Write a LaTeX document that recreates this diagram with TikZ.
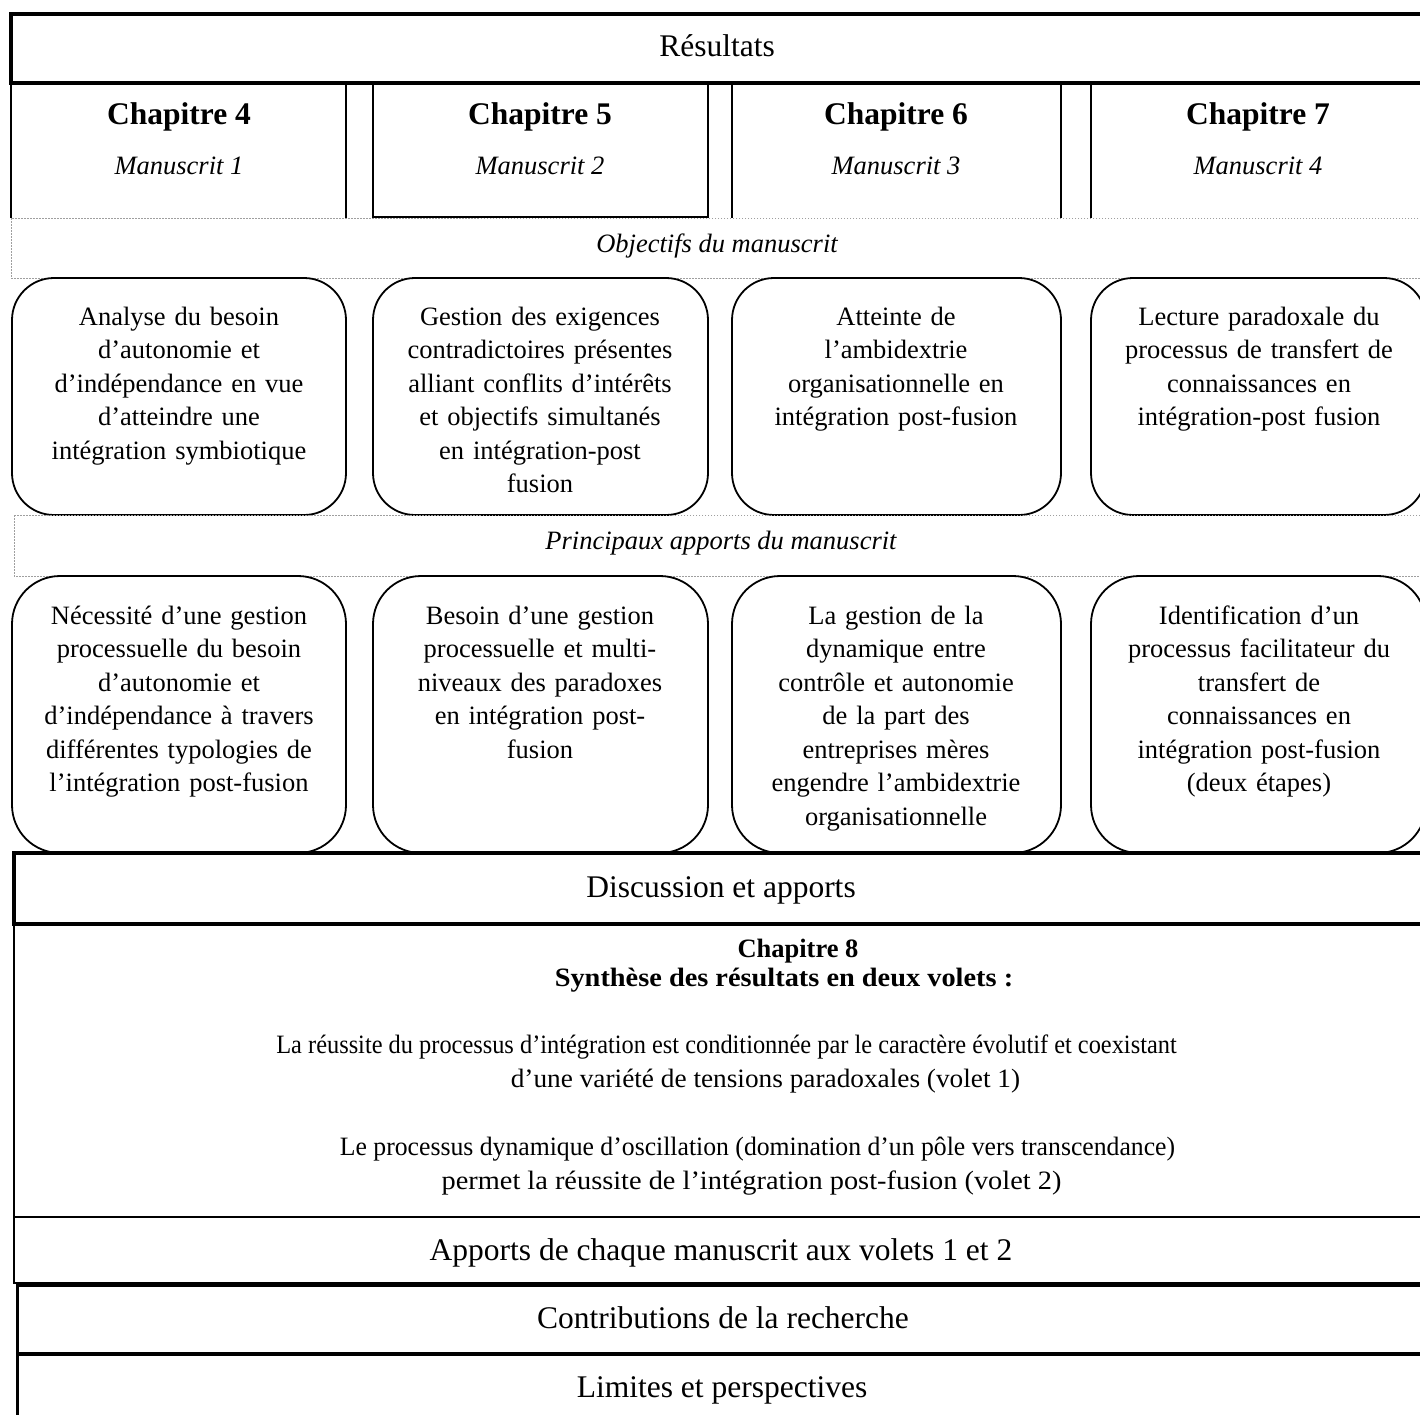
\documentclass[tikz,border=0pt]{standalone}
\usepackage{fontspec}
\setmainfont{Liberation Serif}
\begin{document}
\begin{tikzpicture}[x=1pt,y=-1pt,
  thickbox/.style={line width=3.2pt},
  thinline/.style={line width=1.4pt},
  rboxa/.style={line width=1.8pt, rounded corners=42pt},
  rboxb/.style={line width=1.8pt, rounded corners=48pt},
  band/.style={draw=gray!75, line width=1pt, dash pattern=on 1.5pt off 1.5pt},
  bigtxt/.style={font=\fontsize{31.5}{38}\selectfont, inner sep=0, anchor=base},
  chtxt/.style={font=\fontsize{31.5}{38}\selectfont\bfseries, inner sep=0, anchor=base},
  ittxt/.style={font=\fontsize{26.5}{33.5}\selectfont\itshape, inner sep=0, anchor=base},
  linetxt/.style={font=\fontsize{26.5}{33.5}\selectfont, inner sep=0, anchor=base},
  boldtxt/.style={font=\fontsize{26.5}{33.5}\selectfont\bfseries, inner sep=0, anchor=base},
  bodytxt/.style={font=\fontsize{26.5}{33.5}\selectfont, inner sep=0, anchor=base, text width=330pt, align=center}
]
\useasboundingbox (0,0) rectangle (1420,1414);
\fill[white] (0,0) rectangle (1420,1414);

% Résultats header
\draw[thickbox] (11,14) rectangle (1430,83);
\node[bigtxt] (res) at (717,56) {Résultats};

% Chapter boxes
\draw[thinline] (11,83) -- (11,218);
\draw[thinline] (346,83) -- (346,218);
\draw[thinline] (373,83) rectangle (708,217);
\draw[thinline] (732,83) -- (732,218);
\draw[thinline] (1061,83) -- (1061,218);
\draw[thinline] (1091,83) -- (1091,218);

\node[chtxt] (c4) at (179,124) {Chapitre 4};
\node[ittxt] (m1) at (179,174) {Manuscrit 1};
\node[chtxt] (c5) at (540,124) {Chapitre 5};
\node[ittxt] (m2) at (540,174) {Manuscrit 2};
\node[chtxt] (c6) at (896,124) {Chapitre 6};
\node[ittxt] (m3) at (896,174) {Manuscrit 3};
\node[chtxt] (c7) at (1258,124) {Chapitre 7};
\node[ittxt] (m4) at (1258,174) {Manuscrit 4};

% Objectifs band
\draw[band] (11,218) rectangle (1430,278);
\node[ittxt] (obj) at (717,252) {Objectifs du manuscrit};

% Row 1 boxes
\draw[rboxa] (12,278) rectangle (346,515);
\draw[rboxa] (373,278) rectangle (708,515);
\draw[rboxa] (732,278) rectangle (1061,515);
\draw[rboxa] (1091,278) rectangle (1426,515);

\node[bodytxt] (o1) at (179,325) {Analyse du besoin\\d’autonomie et\\d’indépendance en vue\\d’atteindre une\\intégration symbiotique};
\node[bodytxt] (o2) at (540,325) {Gestion des exigences\\contradictoires présentes\\alliant conflits d’intérêts\\et objectifs simultanés\\en intégration-post\\fusion};
\node[bodytxt] (o3) at (896,325) {Atteinte de\\l’ambidextrie\\organisationnelle en\\intégration post-fusion};
\node[bodytxt] (o4) at (1259,325) {Lecture paradoxale du\\processus de transfert de\\connaissances en\\intégration-post fusion};

% Principaux apports band
\draw[band] (14,515) rectangle (1430,576);
\node[ittxt] (pa) at (721,549) {Principaux apports du manuscrit};

% Row 2 boxes
\draw[rboxb] (12,576) rectangle (346,853);
\draw[rboxb] (373,576) rectangle (708,853);
\draw[rboxb] (732,576) rectangle (1061,853);
\draw[rboxb] (1091,576) rectangle (1426,853);

\node[bodytxt] (p1) at (179,624) {Nécessité d’une gestion\\processuelle du besoin\\d’autonomie et\\d’indépendance à travers\\différentes typologies de\\l’intégration post-fusion};
\node[bodytxt] (p2) at (540,624) {Besoin d’une gestion\\processuelle et multi-\\niveaux des paradoxes\\en intégration post-\\fusion};
\node[bodytxt] (p3) at (896,624) {La gestion de la\\dynamique entre\\contrôle et autonomie\\de la part des\\entreprises mères\\engendre l’ambidextrie\\organisationnelle};
\node[bodytxt] (p4) at (1259,624) {Identification d’un\\processus facilitateur du\\transfert de\\connaissances en\\intégration post-fusion\\(deux étapes)};

% Discussion
\draw[thickbox] (14,853) rectangle (1430,924);
\node[bigtxt] (disc) at (721,897) {Discussion et apports};

% Chapitre 8 section
\draw[thinline] (14,924) rectangle (1430,1283);
\draw[thinline] (14,1217) -- (1430,1217);
\node[boldtxt] (c8) at (798,957) {Chapitre 8};
\node[boldtxt] (syn) at (784,986) {\scalebox{1.07}[1]{Synthèse des résultats en deux volets :}};
\node[linetxt] (v1a) at (726.5,1053) {\scalebox{0.92}[1]{La réussite du processus d’intégration est conditionnée par le caractère évolutif et coexistant}};
\node[linetxt] (v1b) at (765.5,1087) {\scalebox{1.03}[1]{d’une variété de tensions paradoxales (volet 1)}};
\node[linetxt] (v2a) at (757.5,1155) {\scalebox{0.97}[1]{Le processus dynamique d’oscillation (domination d’un pôle vers transcendance)}};
\node[linetxt] (v2b) at (751.5,1189) {\scalebox{1.07}[1]{permet la réussite de l’intégration post-fusion (volet 2)}};
\node[bigtxt] (app) at (721,1260) {Apports de chaque manuscrit aux volets 1 et 2};

% Contributions and limits
\draw[thickbox] (17.5,1285) rectangle (1430,1354);
\node[bigtxt] (contr) at (723,1328) {Contributions de la recherche};
\draw[thickbox] (17.5,1354) rectangle (1430,1440);
\node[bigtxt] (lim) at (722,1397) {Limites et perspectives};
\end{tikzpicture}
\end{document}
